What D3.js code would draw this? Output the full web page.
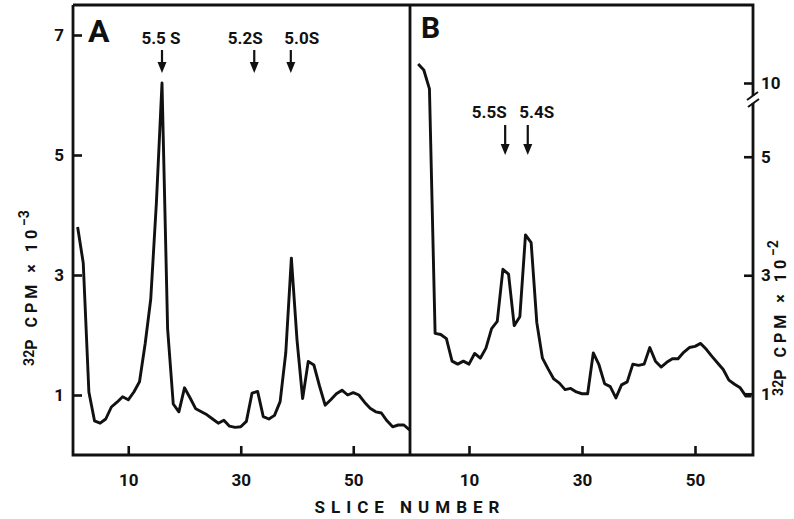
<!DOCTYPE html>
<html>
<head>
<meta charset="utf-8">
<script src="https://cdn.jsdelivr.net/npm/d3@7"></script>
<style>
  body { margin: 0; background: #fff; }
  svg { display: block; }
  text { font-family: Roboto, "Liberation Sans", sans-serif; font-weight: bold; fill: #111; }
</style>
</head>
<body>
<div id="chart"></div>
<script>
// slice numbers 1..60 for both gels
var slices = d3.range(1, 61);

// panel A : 32P cpm x 10^-3
var cpmA = [3.8, 3.2, 1.05, 0.57, 0.53, 0.6, 0.8, 0.88, 0.97, 0.92,
            1.05, 1.22, 1.85, 2.6, 4.2, 6.2, 2.1, 0.85, 0.72, 1.12,
            0.95, 0.77, 0.72, 0.67, 0.6, 0.53, 0.58, 0.48, 0.46, 0.47,
            0.56, 1.03, 1.06, 0.64, 0.6, 0.66, 0.89, 1.7, 3.28, 1.92,
            0.94, 1.56, 1.5, 1.15, 0.83, 0.92, 1.02, 1.08, 1.0, 1.04,
            1.0, 0.88, 0.78, 0.72, 0.7, 0.57, 0.47, 0.5, 0.5, 0.42];

// panel B : 32P cpm x 10^-2
var cpmB = [10.32, 10.22, 9.9, 2.02, 2.0, 1.93, 1.55, 1.5, 1.55, 1.5,
            1.68, 1.6, 1.77, 2.1, 2.22, 3.1, 3.02, 2.15, 2.3, 3.68,
            3.55, 2.2, 1.6, 1.42, 1.25, 1.18, 1.07, 1.09, 1.03, 1.0,
            1.0, 1.69, 1.49, 1.17, 1.12, 0.93, 1.15, 1.2, 1.5, 1.48,
            1.5, 1.78, 1.55, 1.45, 1.53, 1.59, 1.59, 1.7, 1.78, 1.8,
            1.85, 1.75, 1.63, 1.52, 1.41, 1.23, 1.16, 1.1, 0.96, 0.96];

var xTicks = [10, 30, 50];
var yTicksA = [1, 3, 5, 7];
var yTicksB = [1, 3, 5, 10];

// sedimentation markers (slice where the arrow points)
var markersA = [{label: "5.5 S", slice: 16.0}, {label: "5.2S", slice: 32.4}, {label: "5.0S", slice: 38.9}];
var markersB = [{label: "5.5S", slice: 16.4}, {label: "5.4S", slice: 20.4}];

var W = 794, H = 519;
// NB: "top" clashes with window.top, so the frame edges get their own names
var fLeft = 73, fMid = 410, fRight = 753, fTop = 5, fBottom = 455;

var svg = d3.select("#chart").append("svg").attr("width", W).attr("height", H);

var xA = d3.scaleLinear().domain([0, 60]).range([72, 409.5]);
var xB = d3.scaleLinear().domain([0, 60]).range([412.5, 751.5]);
var yA = d3.scaleLinear().domain([0, 7.5]).range([455, 5]);
// broken axis on B: 0..5.9 below the break, 9.8..11.3 above it
var yB = d3.scaleLinear().domain([0, 5.9, 9.8, 11.3]).range([453, 103.4, 94.85, 6]);

// frame
var frame = svg.append("g").attr("stroke", "#111").attr("stroke-width", 2.8).attr("fill", "none");
frame.append("path").attr("d", "M" + fLeft + "," + fTop + "H" + fRight + "V96");
frame.append("path").attr("d", "M" + fRight + ",103V" + fBottom + "H" + fLeft + "V" + fTop);
frame.append("path").attr("d", "M" + fMid + "," + fTop + "V" + fBottom);
// break marks
frame.append("path").attr("stroke-width", 2)
  .attr("d", "M" + (fRight - 6) + ",100L" + (fRight + 5) + ",92M" + (fRight - 5) + ",107L" + (fRight + 6) + ",99");

function styleAxis(g) {
  g.select(".domain").remove();
  g.selectAll(".tick line").attr("stroke", "#111").attr("stroke-width", 2.6);
  g.selectAll(".tick text").style("font-size", "17px").attr("fill", "#111");
}

svg.append("g").attr("transform", "translate(" + fLeft + ",0)")
  .call(d3.axisLeft(yA).tickValues(yTicksA).tickSize(-9).tickPadding(9))
  .call(styleAxis);

svg.append("g").attr("transform", "translate(" + fRight + ",0)")
  .call(d3.axisRight(yB).tickValues(yTicksB).tickSize(-9).tickPadding(8))
  .call(styleAxis);

svg.append("g").attr("transform", "translate(0," + fBottom + ")")
  .call(d3.axisBottom(xA).tickValues(xTicks).tickSize(-9).tickPadding(19))
  .call(styleAxis);

svg.append("g").attr("transform", "translate(0," + fBottom + ")")
  .call(d3.axisBottom(xB).tickValues(xTicks).tickSize(-9).tickPadding(19))
  .call(styleAxis);

// curves
var lineA = d3.line().x(function(d, i) { return xA(slices[i]); }).y(function(d) { return yA(d); });
var lineB = d3.line().x(function(d, i) { return xB(slices[i]); }).y(function(d) { return yB(d); });

svg.append("path").datum(cpmA).attr("d", lineA)
  .attr("fill", "none").attr("stroke", "#111").attr("stroke-width", 2.9).attr("stroke-linejoin", "round");
svg.append("path").datum(cpmB).attr("d", lineB)
  .attr("fill", "none").attr("stroke", "#111").attr("stroke-width", 2.9).attr("stroke-linejoin", "round");

// arrows with labels
function drawMarkers(list, x, y0, y1, labelY, offsets) {
  var g = svg.append("g");
  list.forEach(function(m, i) {
    var cx = x(m.slice);
    g.append("line").attr("x1", cx).attr("x2", cx).attr("y1", y0).attr("y2", y1 - 8)
      .attr("stroke", "#111").attr("stroke-width", 2.2);
    g.append("path").attr("d", "M" + (cx - 4.5) + "," + (y1 - 11) + "L" + (cx + 4.5) + "," + (y1 - 11) + "L" + cx + "," + y1 + "Z")
      .attr("fill", "#111");
    g.append("text").attr("x", cx + offsets[i]).attr("y", labelY)
      .attr("text-anchor", "middle").style("font-size", "17px").text(m.label);
  });
}
drawMarkers(markersA, xA, 50, 73, 44, [-1, -9, 11]);
drawMarkers(markersB, xB, 125, 155, 118, [-16, 9]);

// panel letters
svg.append("text").attr("x", 88).attr("y", 42).style("font-size", "32px").text("A");
svg.append("text").attr("x", 421).attr("y", 38).style("font-size", "30px").text("B");

// axis titles
function yTitle(x, y, exp) {
  var t = svg.append("text").attr("transform", "translate(" + x + "," + y + ") rotate(-90)")
    .attr("text-anchor", "middle").style("font-size", "16px").style("letter-spacing", "4px");
  t.append("tspan").attr("dy", "-3").style("font-size", "14px").style("letter-spacing", "0px").text("32");
  t.append("tspan").attr("dy", "3").text("P CPM \u00d7 10");
  t.append("tspan").attr("dy", "-8").style("font-size", "14px").style("letter-spacing", "0px").text(exp);
}
yTitle(37, 288, "\u22123");
yTitle(786, 318, "\u22122");

svg.append("text").attr("x", 410).attr("y", 513).attr("text-anchor", "middle")
  .style("font-size", "17px").style("letter-spacing", "6px").text("SLICE NUMBER");
</script>
</body>
</html>
